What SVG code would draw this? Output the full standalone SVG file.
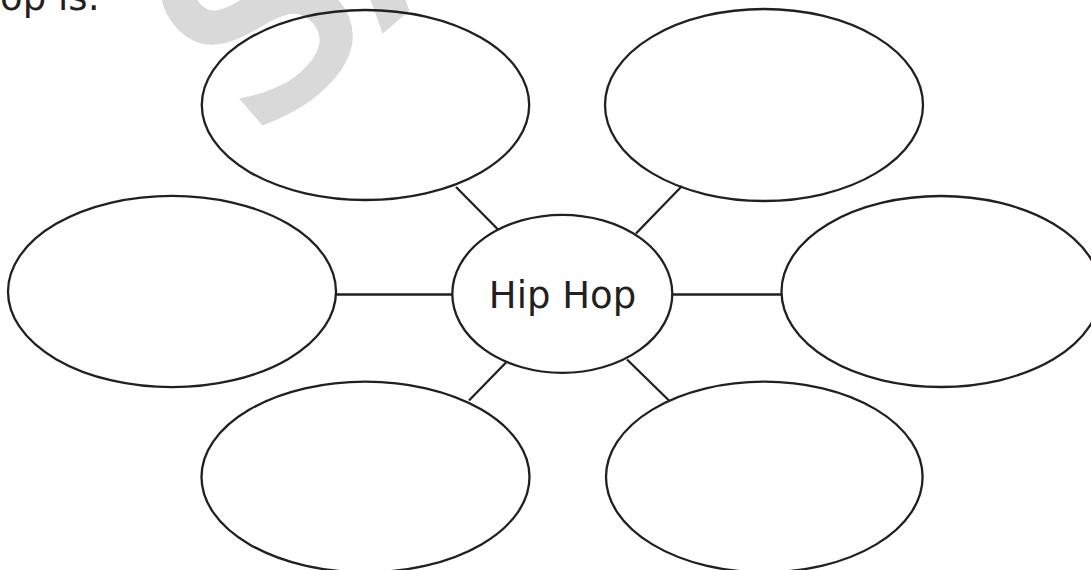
<svg xmlns="http://www.w3.org/2000/svg" width="1091" height="570" viewBox="0 0 1091 570">
  <style>
    .bubble { fill: none; stroke: #231f20; stroke-width: 2.3; }
    .link { stroke: #231f20; stroke-width: 2.3; fill: none; }
    .label { font-family: "DejaVu Sans", Verdana, sans-serif; font-size: 37px; fill: #231f20; }
    .mark { font-family: "DejaVu Sans", Verdana, sans-serif; font-size: 258px; fill: #d9d9d9; stroke: #d9d9d9; stroke-width: 8; }
  </style>
  <rect width="1091" height="570" fill="#ffffff"/>
  <g id="watermark">
    <text class="mark" transform="translate(256 14) rotate(-41)" x="-82" y="94">SA</text>
  </g>
  <g id="heading">
    <text class="label" x="100" y="10" text-anchor="end">op is:</text>
  </g>
  <g id="connectors">
    <line class="link" x1="336" y1="294.5" x2="452" y2="294.5"/>
    <line class="link" x1="672" y1="294.5" x2="782" y2="294.5"/>
    <line class="link" x1="456" y1="187" x2="498.5" y2="230"/>
    <line class="link" x1="636" y1="233.5" x2="682" y2="186"/>
    <line class="link" x1="506" y1="362.5" x2="469" y2="400.5"/>
    <line class="link" x1="627" y1="359.5" x2="669.5" y2="401"/>
  </g>
  <g id="node-center">
    <ellipse class="bubble" cx="562.3" cy="293.8" rx="110" ry="79"/>
    <text class="label" x="562.5" y="307.5" text-anchor="middle">Hip Hop</text>
  </g>
  <g id="node-top-left">
    <ellipse class="bubble" cx="365.5" cy="105" rx="163.7" ry="95"/>
  </g>
  <g id="node-top-right">
    <ellipse class="bubble" cx="764" cy="105" rx="159" ry="96"/>
  </g>
  <g id="node-left">
    <ellipse class="bubble" cx="172" cy="291.5" rx="164" ry="95.7"/>
  </g>
  <g id="node-right">
    <ellipse class="bubble" cx="941" cy="291.5" rx="159.5" ry="95.5"/>
  </g>
  <g id="node-bottom-left">
    <ellipse class="bubble" cx="365.5" cy="477" rx="164" ry="95.3"/>
  </g>
  <g id="node-bottom-right">
    <ellipse class="bubble" cx="764.3" cy="477" rx="158.3" ry="95.3"/>
  </g>
</svg>
